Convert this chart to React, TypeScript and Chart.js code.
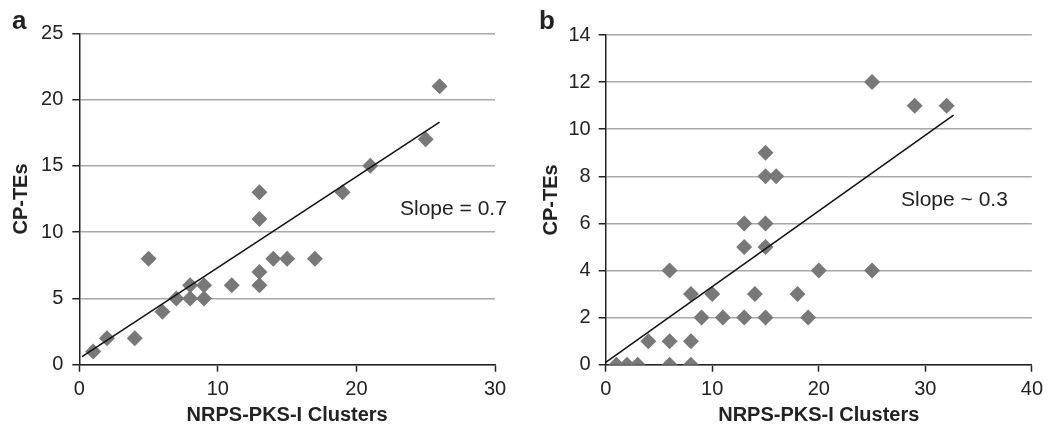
import React, { useEffect, useRef } from "react";
import { Chart, registerables } from "chart.js";

Chart.register(...registerables);

// Panel a data
const panelA_x = [1, 2, 4, 5, 6, 7, 8, 8, 9, 9, 11, 13, 13, 13, 13, 14, 15, 17, 19, 21, 25, 26];
const panelA_y = [1, 2, 2, 8, 4, 5, 5, 6, 5, 6, 6, 6, 7, 11, 13, 8, 8, 8, 13, 15, 17, 21];
const trendA_x = [0.2, 26];
const trendA_y = [0.6, 18.3];

// Panel b data
const panelB_x = [1, 2, 3, 6, 8, 4, 6, 8, 9, 11, 13, 15, 19, 8, 10, 14, 18, 6, 20, 25, 13, 15, 13, 15, 15, 16, 15, 25, 29, 32];
const panelB_y = [0, 0, 0, 0, 0, 1, 1, 1, 2, 2, 2, 2, 2, 3, 3, 3, 3, 4, 4, 4, 5, 5, 6, 6, 8, 8, 9, 12, 11, 11];
const trendB_x = [0, 32.65];
const trendB_y = [0.1, 10.6];

// Axis settings
const xTitle = "NRPS-PKS-I Clusters";
const yTitle = "CP-TEs";
const axisA = { xMax: 30, xStep: 10, yMax: 25, yStep: 5 };
const axisB = { xMax: 40, xStep: 10, yMax: 14, yStep: 2 };

const FONT = "'Liberation Sans', Arial, sans-serif";
const TEXT = "#222222";
const DARK = "#222222";
const GRID = "#a8a8a8";
const MARK = "#787878";

function zip(xs: number[], ys: number[]) {
  return xs.map((x, i) => ({ x, y: ys[i] }));
}

function makeConfig(
  xs: number[], ys: number[], tx: number[], ty: number[],
  axis: { xMax: number; xStep: number; yMax: number; yStep: number },
  layout: { top: number; right: number; yWidth: number; xHeight: number; yPad: number }
): any {
  return {
    type: "scatter",
    data: {
      datasets: [
        {
          type: "line",
          data: zip(tx, ty),
          borderColor: "#111111",
          borderWidth: 1.5,
          pointRadius: 0,
          fill: false,
        },
        {
          type: "scatter",
          data: zip(xs, ys),
          pointStyle: "rectRot",
          pointRadius: 8,
          pointHoverRadius: 8,
          backgroundColor: MARK,
          borderColor: MARK,
          borderWidth: 0,
        },
      ],
    },
    options: {
      responsive: false,
      animation: false,
      events: [],
      layout: { padding: { left: 0, right: layout.right, top: layout.top, bottom: 0 } },
      plugins: { legend: { display: false }, tooltip: { enabled: false } },
      scales: {
        x: {
          type: "linear",
          min: 0,
          max: axis.xMax,
          ticks: { stepSize: axis.xStep, color: TEXT, font: { family: FONT, size: 20 }, padding: 6, maxRotation: 0 },
          grid: { drawOnChartArea: false, drawTicks: true, tickLength: 7, tickColor: DARK, tickWidth: 1.5 },
          border: { display: true, color: DARK, width: 1.5 },
          title: { display: true, text: xTitle, color: TEXT, font: { family: FONT, size: 20, weight: "bold" }, padding: { top: 0, bottom: 0 } },
          afterFit: (s: any) => { s.height = layout.xHeight; },
        },
        y: {
          type: "linear",
          min: 0,
          max: axis.yMax,
          ticks: { stepSize: axis.yStep, color: TEXT, font: { family: FONT, size: 20 }, padding: layout.yPad },
          grid: { color: GRID, lineWidth: 1.5, drawTicks: true, tickLength: 7, tickColor: DARK, tickWidth: 1.5 },
          border: { display: true, color: DARK, width: 1.5 },
          title: { display: true, text: yTitle, color: TEXT, font: { family: FONT, size: 20, weight: "bold" }, padding: { top: 9, bottom: 0 } },
          afterFit: (s: any) => { s.width = layout.yWidth; },
        },
      },
    },
  };
}

export default function App() {
  const refA = useRef<HTMLCanvasElement>(null);
  const refB = useRef<HTMLCanvasElement>(null);

  useEffect(() => {
    const a = new Chart(refA.current!, makeConfig(panelA_x, panelA_y, trendA_x, trendA_y, axisA,
      { top: 33.3, right: 35, yWidth: 79.3, xHeight: 62.3, yPad: 9 }));
    const b = new Chart(refB.current!, makeConfig(panelB_x, panelB_y, trendB_x, trendB_y, axisB,
      { top: 35, right: 13, yWidth: 75.7, xHeight: 62.3, yPad: 8 }));
    return () => { a.destroy(); b.destroy(); };
  }, []);

  const letter: React.CSSProperties = {
    position: "absolute", fontFamily: FONT, fontWeight: "bold", fontSize: 26, lineHeight: "26px", color: TEXT,
  };
  const slope: React.CSSProperties = {
    position: "absolute", fontFamily: FONT, fontSize: 21, lineHeight: "21px", color: TEXT, whiteSpace: "nowrap",
  };

  return (
    <div style={{ position: "absolute", left: 0, top: 0, width: 1049, height: 427, background: "#fff", overflow: "hidden" }}>
      <canvas ref={refA} width={530} height={427} style={{ position: "absolute", left: 0, top: 0 }} />
      <canvas ref={refB} width={519} height={427} style={{ position: "absolute", left: 530, top: 0 }} />
      <div style={{ ...letter, left: 12, top: 7 }}>a</div>
      <div style={{ ...letter, left: 539, top: 7 }}>b</div>
      <div style={{ ...slope, left: 400, top: 197 }}>Slope = 0.7</div>
      <div style={{ ...slope, left: 901, top: 188 }}>Slope ~ 0.3</div>
    </div>
  );
}
